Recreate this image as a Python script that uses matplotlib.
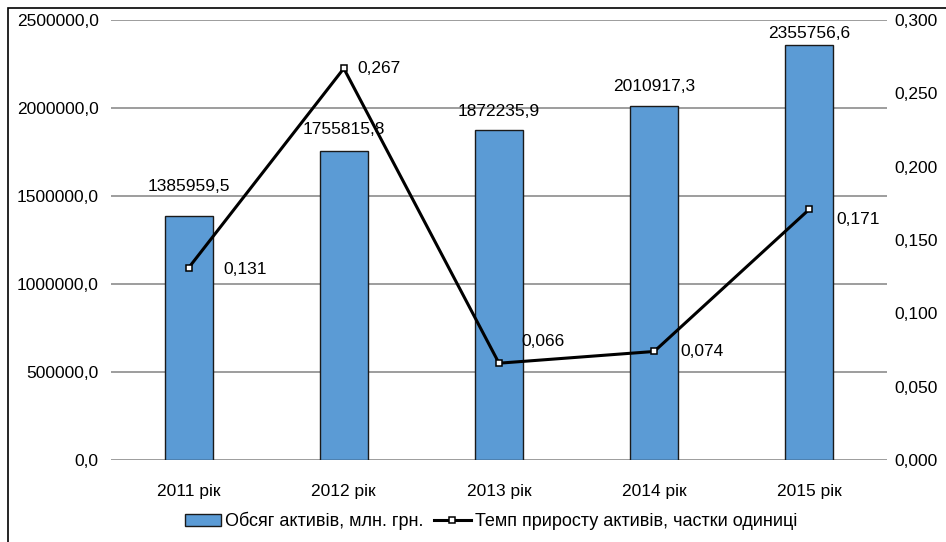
import matplotlib
matplotlib.use("Agg")
import matplotlib.pyplot as plt
from matplotlib.patches import Rectangle
from matplotlib.ticker import FuncFormatter, MultipleLocator

plt.rcParams['font.family'] = ['Liberation Sans', 'DejaVu Sans']

categories = ["2011 рік", "2012 рік", "2013 рік", "2014 рік", "2015 рік"]
assets = [1385959.5, 1755815.8, 1872235.9, 2010917.3, 2355756.6]
growth = [0.131, 0.267, 0.066, 0.074, 0.171]
bar_label = "Обсяг активів, млн. грн."
line_label = "Темп приросту активів, частки одиниці"

# label offsets (pixels) for data labels
asset_offsets = [30, 21, 19, 20, 12]
growth_offsets = [(35, -2), (14, 0), (22, 22), (26, 0), (27, -10)]

W, H = 946, 542
fig = plt.figure(figsize=(W / 100, H / 100), dpi=100)
ax = fig.add_axes([111 / W, 82 / H, 776 / W, 440 / H])
ax2 = ax.twinx()

FS = 12.5
x = list(range(len(categories)))
bars = ax.bar(x, assets, width=0.31, color="#5B9BD5", edgecolor="#1a1a1a",
              linewidth=1.0, zorder=3, label=bar_label)
ax.set_xlim(-0.5, len(categories) - 0.5)
ax.set_ylim(0, 2500000)
ax.yaxis.set_major_locator(MultipleLocator(500000))
ax.yaxis.set_major_formatter(FuncFormatter(lambda v, p: f"{v:.1f}".replace(".", ",")))
ax.grid(axis="y", color="#8c8c8c", linewidth=1.2, zorder=0)
ax.set_axisbelow(True)
for s in ax.spines.values():
    s.set_visible(False)
for s in ax2.spines.values():
    s.set_visible(False)
ax.tick_params(axis="y", length=0, pad=9, labelsize=FS)
ax.tick_params(axis="x", length=0, pad=17, labelsize=FS)
ax.set_xticks(x)
ax.set_xticklabels(categories)

for xi, v, dy in zip(x, assets, asset_offsets):
    ax.annotate(f"{v:.1f}".replace(".", ","), (xi, v), xytext=(0, dy),
                textcoords="offset pixels", ha="center", va="center", fontsize=FS)

line, = ax2.plot(x, growth, color="black", linewidth=2.2, marker="s",
                 markersize=5, markerfacecolor="white", markeredgecolor="black",
                 markeredgewidth=1.1, zorder=5, label=line_label)
ax2.set_ylim(0, 0.3)
ax2.yaxis.set_major_locator(MultipleLocator(0.05))
ax2.yaxis.set_major_formatter(FuncFormatter(lambda v, p: f"{v:.3f}".replace(".", ",")))
ax2.tick_params(axis="y", length=0, pad=5, labelsize=FS)

for xi, v, (dx, dy) in zip(x, growth, growth_offsets):
    ax2.annotate(f"{v:.3f}".replace(".", ","), (xi, v), xytext=(dx, dy),
                 textcoords="offset pixels", ha="left", va="center", fontsize=FS)

fig.legend(handles=[bars, line], labels=[bar_label, line_label], loc="center",
           bbox_to_anchor=(491 / W, 21 / H), ncol=2, frameon=False, fontsize=13,
           handlelength=2.0, handletextpad=0.25, columnspacing=0.6)

fig.patches.append(Rectangle((7.5 / W, -0.1), 1.2, 1.1 - 7.5 / H, transform=fig.transFigure,
                             fill=False, edgecolor="black", linewidth=1.2))

fig.savefig("out.png", dpi=100)
